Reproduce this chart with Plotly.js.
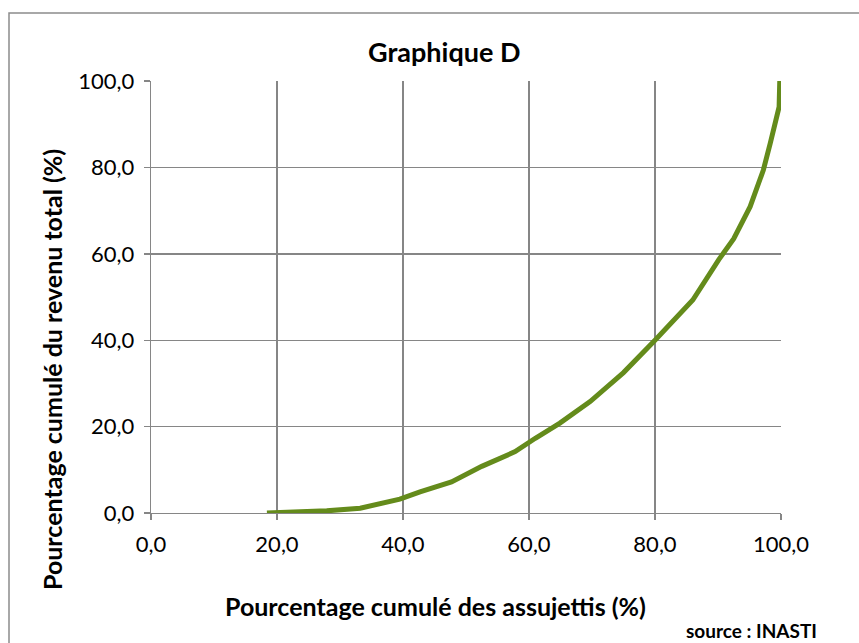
<!DOCTYPE html>
<html>
<head>
<meta charset="utf-8">
<script src="https://cdn.plot.ly/plotly-3.0.1.min.js"></script>
<style>html,body{margin:0;padding:0;background:#fff;}#chart{width:859px;height:643px;}</style>
</head>
<body>
<div id="chart"></div>
<script>
// Cumulative % of taxpayers (x) vs cumulative % of total income (y)
const pctAssujettis = [18.4, 20, 24, 27.9, 33.2, 39.5, 42.7, 47.7, 52.5, 57.8, 61, 64.9, 69.7, 75, 80, 86, 90.1, 92.5, 95.1, 96.2, 97.2, 98.3, 99.3, 99.7, 99.8, 100];
const pctRevenu = [0, 0.1, 0.2, 0.5, 1.1, 3.2, 4.9, 7.2, 10.8, 14.2, 17.3, 20.8, 25.8, 32.5, 40, 49.3, 58.6, 63.5, 70.9, 75, 79.4, 85.6, 90.9, 94, 99.8, 100];
const tickValues = [0, 20, 40, 60, 80, 100];
const chartTitle = 'Graphique D';
const xTitle = 'Pourcentage cumulé des assujettis (%)';
const yTitle = 'Pourcentage cumulé du revenu total (%)';
const sourceText = 'source : INASTI';

const FONT = "Lato, 'Open Sans', sans-serif";
const GRID = '#868686';
// plot area in pixels: x 151..781, y 81..513
const PL = 151, PW = 630, PT = 81, PH = 432;
const px = v => (v - PL) / PW;
const py = v => (PT + PH - v) / PH;

const trace = {
  x: pctAssujettis, y: pctRevenu, type: 'scatter', mode: 'lines',
  line: {color: '#648B1B', width: 5},
  hoverinfo: 'skip', showlegend: false
};
function axis() {
  return {
    range: [0, 100], tickmode: 'array', tickvals: tickValues, tickformat: '.1f',
    showgrid: true, gridcolor: GRID, gridwidth: 1.4,
    showline: true, linecolor: GRID, linewidth: 1.4,
    ticks: 'outside', ticklen: 6, tickcolor: GRID, tickwidth: 1.4,
    ticklabelstandoff: 5,
    zeroline: false, fixedrange: true,
    tickfont: {family: FONT, size: 22, color: '#000'}
  };
}
const layout = {
  width: 859, height: 643,
  margin: {l: PL, r: 859 - PL - PW, t: PT, b: 643 - PT - PH},
  paper_bgcolor: '#fff', plot_bgcolor: '#fff',
  separators: ', ',
  xaxis: axis(),
  yaxis: axis(),
  shapes: [{
    type: 'rect', xref: 'paper', yref: 'paper',
    x0: px(9), x1: px(880), y0: py(660), y1: py(13),
    line: {color: '#8c8c8c', width: 1.5}, layer: 'above'
  }],
  annotations: [
    {text: '<b>' + chartTitle + '</b>', xref: 'paper', yref: 'paper', x: px(444), y: py(51),
     xanchor: 'center', yanchor: 'middle', showarrow: false,
     font: {family: FONT, size: 27, color: '#000'}},
    {text: '<b>' + xTitle + '</b>', xref: 'paper', yref: 'paper', x: px(435), y: py(606),
     xanchor: 'center', yanchor: 'middle', showarrow: false,
     font: {family: FONT, size: 25, color: '#000'}},
    {text: '<b>' + yTitle + '</b>', xref: 'paper', yref: 'paper', x: px(52), y: py(370),
     xanchor: 'center', yanchor: 'middle', showarrow: false, textangle: -90,
     font: {family: FONT, size: 25, color: '#000'}},
    {text: '<b>' + sourceText + '</b>', xref: 'paper', yref: 'paper', x: px(819), y: py(630),
     xanchor: 'right', yanchor: 'middle', showarrow: false,
     font: {family: FONT, size: 19, color: '#000'}}
  ]
};
Plotly.newPlot('chart', [trace], layout, {displayModeBar: false, staticPlot: true});
</script>
</body>
</html>
